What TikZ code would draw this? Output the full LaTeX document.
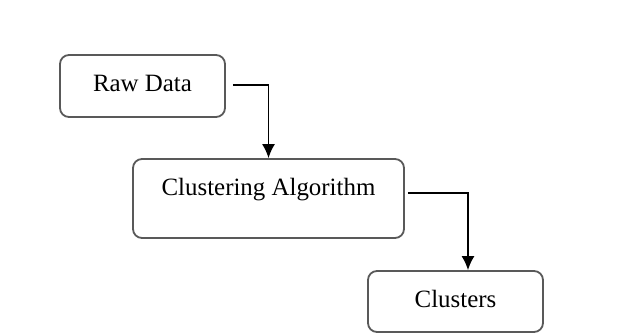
\documentclass[tikz,border=0pt]{standalone}
\usepackage{fontspec}
\setmainfont{Liberation Serif}
\usetikzlibrary{arrows.meta}
\tikzstyle{block}=[draw=black!65, line width=1.8bp, rounded corners=9bp,
  inner sep=0pt, text height=36bp, text centered,
  font=\fontsize{25}{30}\selectfont]
\tikzstyle{line} = [draw, line width=1.5bp, color=black,
  -{Latex[length=14bp,width=13bp]}]
\newcommand{\stage}[5]{node (p#1) [block, minimum width=#3,
  minimum height=#4, text depth=#5] {#2}}
\begin{document}
\begin{tikzpicture}
\useasboundingbox (0,0) rectangle (621bp,-336bp);

% Draw diagram elements
\path (142.5bp,-86bp) \stage{1}{Raw Data}{165bp}{62bp}{26bp};
\path (p1.center)+(126bp,-112.5bp) \stage{2}{Clustering Algorithm}{271bp}{79bp}{43bp};
\path (p2.center)+(187bp,-103bp) \stage{3}{Clusters}{175bp}{61bp}{25bp};

% Draw arrows between elements
\path [line] ([xshift=7bp,yshift=1bp]p1.east) -| (p2.north);
\path [line] ([xshift=3bp,yshift=5.5bp]p2.east) -| ([xshift=12.5bp]p3.north);
\end{tikzpicture}
\end{document}
